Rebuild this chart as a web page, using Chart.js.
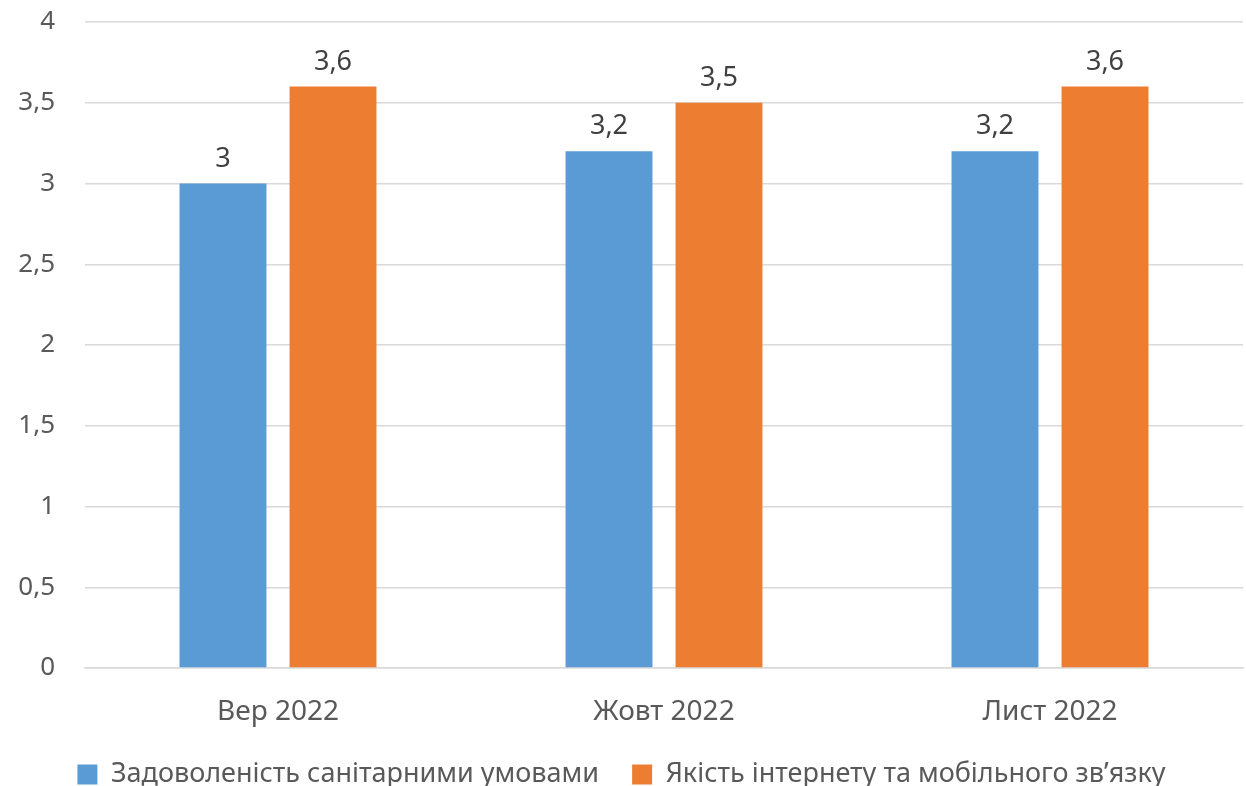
<!DOCTYPE html>
<html>
<head>
  <meta charset="utf-8">
  <title>Chart</title>
  <script src="https://cdn.jsdelivr.net/npm/chart.js"></script>
  <style>
    html, body { margin: 0; padding: 0; background: #fff; }
    #wrap { width: 1246px; height: 786px; }
  </style>
</head>
<body>
  <div id="wrap"><canvas id="chart" width="1246" height="786"></canvas></div>
  <script>
    const categories = ['Вер 2022', 'Жовт 2022', 'Лист 2022'];
    const seriesNames = ['Задоволеність санітарними умовами', 'Якість інтернету та мобільного зв’язку'];
    const sanitary = [3, 3.2, 3.2];
    const internet = [3.6, 3.5, 3.6];
    const colors = ['#5b9bd5', '#ed7d31'];
    const FONT = "'Noto Sans', sans-serif";

    const fmt = v => String(v).replace('.', ',');

    // draws value labels above each bar
    const valueLabels = {
      id: 'valueLabels',
      afterDatasetsDraw(chart) {
        const ctx = chart.ctx;
        ctx.save();
        ctx.font = '27px ' + FONT;
        ctx.fillStyle = '#404040';
        ctx.textAlign = 'center';
        ctx.textBaseline = 'bottom';
        chart.data.datasets.forEach((ds, i) => {
          chart.getDatasetMeta(i).data.forEach((bar, j) => {
            ctx.fillText(fmt(ds.data[j]), bar.x, bar.y - 11);
          });
        });
        ctx.restore();
      }
    };

    new Chart(document.getElementById('chart'), {
      type: 'bar',
      data: {
        labels: categories,
        datasets: [
          { label: seriesNames[0], data: sanitary, backgroundColor: colors[0] },
          { label: seriesNames[1], data: internet, backgroundColor: colors[1] }
        ]
      },
      options: {
        responsive: false,
        animation: false,
        categoryPercentage: 0.57,
        barPercentage: 0.79,
        layout: { padding: { top: 22, right: 3, left: 0, bottom: -12 } },
        plugins: {
          legend: {
            position: 'bottom',
            labels: {
              font: { family: FONT, size: 27 },
              color: '#595959',
              boxWidth: 20,
              boxHeight: 20,
              padding: 5,
              // extra room between the two legend entries
              generateLabels: chart => Chart.defaults.plugins.legend.labels.generateLabels(chart)
                .map((l, i) => Object.assign(l, { text: i === 0 ? l.text + '    ' : l.text }))
            }
          },
          tooltip: { enabled: false }
        },
        scales: {
          x: {
            grid: { display: false },
            border: { color: '#d9d9d9', width: 1.5 },
            ticks: { font: { family: FONT, size: 28 }, color: '#595959', padding: 19 },
            afterFit: s => { s.height = 88; }
          },
          y: {
            min: 0,
            max: 4,
            ticks: { stepSize: 0.5, font: { family: FONT, size: 26 }, color: '#595959', padding: 30, callback: v => fmt(v) },
            grid: { color: '#d9d9d9', lineWidth: 1.5, drawTicks: false },
            border: { display: false },
            afterFit: s => { s.width = 85; s.paddingTop = 0; s.paddingBottom = 0; }
          }
        }
      },
      plugins: [valueLabels]
    });
  </script>
</body>
</html>
